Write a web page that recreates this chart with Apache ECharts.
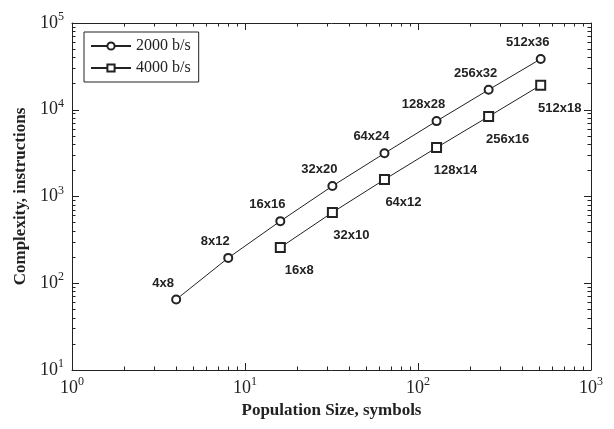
<!DOCTYPE html>
<html lang="en">
<head>
    <meta charset="UTF-8">
    <title>Complexity</title>
    <script src="https://cdn.jsdelivr.net/npm/echarts@6/dist/echarts.min.js"></script>
</head>
<body style="margin:0;background:#fff">
    <div id="chart" style="width:614px;height:429px;"></div>
    <script type="text/javascript">
        // data
        var pop2000 = [4, 8, 16, 32, 64, 128, 256, 512];
        var cplx2000 = [65, 196, 520, 1320, 3150, 7400, 17000, 38500];
        var tags2000 = ['4x8', '8x12', '16x16', '32x20', '64x24', '128x28', '256x32', '512x36'];

        var pop4000 = [16, 32, 64, 128, 256, 512];
        var cplx4000 = [258, 655, 1570, 3660, 8350, 19200];
        var tags4000 = ['16x8', '32x10', '64x12', '128x14', '256x16', '512x18'];

        var X_MIN = 1, X_MAX = 1000, Y_MIN = 10, Y_MAX = 100000;

        function pairs(xs, ys) {
            var out = [];
            for (var i = 0; i < xs.length; i++) out.push([xs[i], ys[i]]);
            return out;
        }

        var serif = '"Liberation Serif", "DejaVu Serif", serif';
        var sans = '"Liberation Sans", Arial, sans-serif';
        var ink = '#222';

        function powLabel(v) {
            return '{b|10}{s|' + Math.round(Math.log10(v)) + '}';
        }
        var powRich = {
            b: {fontFamily: serif, fontSize: 18, color: ink},
            s: {fontFamily: serif, fontSize: 12, color: ink, padding: [0, 0, 12, 0]}
        };

        var majorTick = {show: true, inside: true, length: 7, lineStyle: {color: ink, width: 1}};
        var minorTick = {show: true, splitNumber: 9, length: 3.5, lineStyle: {color: ink, width: 1}};

        // top / right axes: line + ticks only
        function boxAxis(pos, min, max) {
            return {
                type: 'log', position: pos, min: min, max: max,
                axisLine: {show: true, lineStyle: {color: ink, width: 1}},
                axisLabel: {show: false},
                splitLine: {show: false},
                axisTick: majorTick,
                minorTick: minorTick
            };
        }

        var myChart = echarts.init(document.getElementById('chart'));
        var option = {
            backgroundColor: '#fff',
            animation: false,
            grid: {left: 72, right: 23, top: 23, bottom: 59},
            legend: {
                orient: 'vertical',
                left: 84, top: 32,
                borderColor: ink, borderWidth: 1,
                padding: [6, 8, 6, 6],
                itemGap: 6,
                itemWidth: 40, itemHeight: 9,
                textStyle: {fontFamily: serif, fontSize: 16, color: ink},
                data: ['2000 b/s', '4000 b/s']
            },
            xAxis: [
                {
                    type: 'log', position: 'bottom', min: X_MIN, max: X_MAX,
                    name: 'Population Size, symbols', nameLocation: 'middle', nameGap: 30,
                    nameTextStyle: {fontFamily: serif, fontSize: 17, fontWeight: 'bold', color: ink},
                    axisLine: {show: true, lineStyle: {color: ink, width: 1}},
                    axisTick: majorTick,
                    minorTick: minorTick,
                    axisLabel: {formatter: powLabel, rich: powRich, margin: 6},
                    splitLine: {show: false}
                },
                boxAxis('top', X_MIN, X_MAX)
            ],
            yAxis: [
                {
                    type: 'log', position: 'left', min: Y_MIN, max: Y_MAX,
                    name: 'Complexity, instructions', nameLocation: 'middle', nameGap: 42,
                    nameTextStyle: {fontFamily: serif, fontSize: 17, fontWeight: 'bold', color: ink},
                    axisLine: {show: true, lineStyle: {color: ink, width: 1}},
                    axisTick: majorTick,
                    minorTick: minorTick,
                    axisLabel: {formatter: powLabel, rich: powRich, margin: 8},
                    splitLine: {show: false}
                },
                boxAxis('right', Y_MIN, Y_MAX)
            ],
            series: [
                {
                    name: '2000 b/s', type: 'line',
                    xAxisIndex: 0, yAxisIndex: 0,
                    data: pairs(pop2000, cplx2000),
                    symbol: 'emptyCircle', symbolSize: 8,
                    itemStyle: {color: ink, borderWidth: 1},
                    lineStyle: {color: ink, width: 1},
                    label: {
                        show: true, position: 'top', offset: [-13, 0],
                        fontFamily: sans, fontWeight: 'bold', fontSize: 13, color: ink,
                        formatter: function (p) { return tags2000[p.dataIndex]; }
                    }
                },
                {
                    name: '4000 b/s', type: 'line',
                    xAxisIndex: 0, yAxisIndex: 0,
                    data: pairs(pop4000, cplx4000),
                    symbol: 'emptyRect', symbolSize: 9,
                    itemStyle: {color: ink, borderWidth: 1},
                    lineStyle: {color: ink, width: 1},
                    label: {
                        show: true, position: 'bottom', offset: [19, 6],
                        fontFamily: sans, fontWeight: 'bold', fontSize: 13, color: ink,
                        formatter: function (p) { return tags4000[p.dataIndex]; }
                    }
                }
            ]
        };
        myChart.setOption(option);
    </script>
</body>
</html>
